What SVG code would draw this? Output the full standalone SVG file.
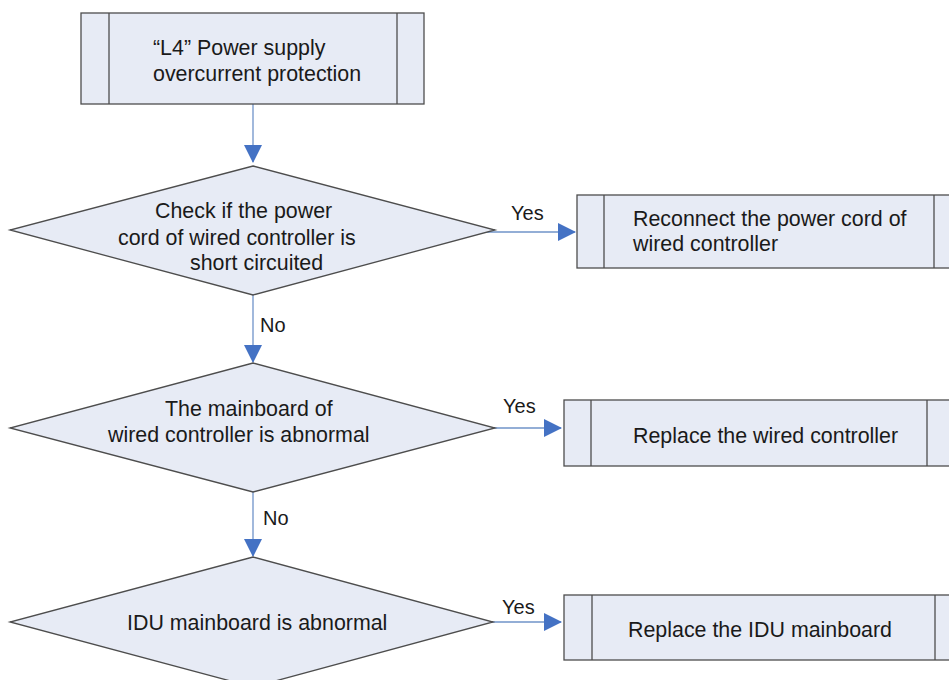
<svg xmlns="http://www.w3.org/2000/svg" width="949" height="680" viewBox="0 0 949 680">
<defs>
<style>
.box{fill:#e7ebf5;stroke:#4d4d4d;stroke-width:1.3}
.in{stroke:#4d4d4d;stroke-width:1.3}
.dia{fill:#e7ebf5;stroke:#4d4d4d;stroke-width:1.3}
.t{font-family:"Liberation Sans",Arial,sans-serif;font-size:21.4px;fill:#1a1a1a}
.l{font-family:"Liberation Sans",Arial,sans-serif;font-size:20px;fill:#1a1a1a}
.c{stroke:#6f93c9;stroke-width:1.3;fill:none}
</style>
<marker id="ah" markerUnits="userSpaceOnUse" markerWidth="18" markerHeight="18" viewBox="0 0 18 18" refX="17" refY="9" orient="auto">
<path d="M0,0 L18,9 L0,18 Z" fill="#4472c4"/>
</marker>
</defs>
<g id="connectors">
<line class="c" x1="253" y1="104" x2="253" y2="162" marker-end="url(#ah)"/>
<line class="c" x1="480" y1="232" x2="575" y2="232" marker-end="url(#ah)"/>
<line class="c" x1="253" y1="295" x2="253" y2="362" marker-end="url(#ah)"/>
<line class="c" x1="480" y1="428" x2="561" y2="428" marker-end="url(#ah)"/>
<line class="c" x1="253" y1="492" x2="253" y2="556" marker-end="url(#ah)"/>
<line class="c" x1="480" y1="622" x2="561" y2="622" marker-end="url(#ah)"/>
<text class="l" x="511" y="220">Yes</text>
<text class="l" x="260" y="332">No</text>
<text class="l" x="503" y="413">Yes</text>
<text class="l" x="263" y="525">No</text>
<text class="l" x="502" y="614">Yes</text>
</g>
<g id="start">
<rect class="box" x="81" y="13" width="343" height="91"/>
<line class="in" x1="109" y1="13" x2="109" y2="104"/>
<line class="in" x1="397" y1="13" x2="397" y2="104"/>
<text class="t" x="153" y="55">“L4” Power supply</text>
<text class="t" x="153" y="81">overcurrent protection</text>
</g>
<g id="d1">
<polygon class="dia" points="253,166 495,230 253,295 10,230"/>
<text class="t" x="155" y="218">Check if the power</text>
<text class="t" x="118" y="245">cord of wired controller is</text>
<text class="t" x="190" y="270">short circuited</text>
</g>
<g id="b1">
<rect class="box" x="577" y="195" width="380" height="73"/>
<line class="in" x1="604" y1="195" x2="604" y2="268"/>
<line class="in" x1="934" y1="195" x2="934" y2="268"/>
<text class="t" x="633" y="226">Reconnect the power cord of</text>
<text class="t" x="633" y="251">wired controller</text>
</g>
<g id="d2">
<polygon class="dia" points="253,363 495,428 253,492 10,428"/>
<text class="t" x="165" y="416">The mainboard of</text>
<text class="t" x="108" y="442">wired controller is abnormal</text>
</g>
<g id="b2">
<rect class="box" x="564" y="400" width="393" height="66"/>
<line class="in" x1="591" y1="400" x2="591" y2="466"/>
<line class="in" x1="927" y1="400" x2="927" y2="466"/>
<text class="t" x="633" y="443">Replace the wired controller</text>
</g>
<g id="d3">
<polygon class="dia" points="253,557 493,622 253,687 10,622"/>
<text class="t" x="127" y="630">IDU mainboard is abnormal</text>
</g>
<g id="b3">
<rect class="box" x="564" y="595" width="393" height="65"/>
<line class="in" x1="592" y1="595" x2="592" y2="660"/>
<line class="in" x1="935" y1="595" x2="935" y2="660"/>
<text class="t" x="628" y="637">Replace the IDU mainboard</text>
</g>
</svg>
